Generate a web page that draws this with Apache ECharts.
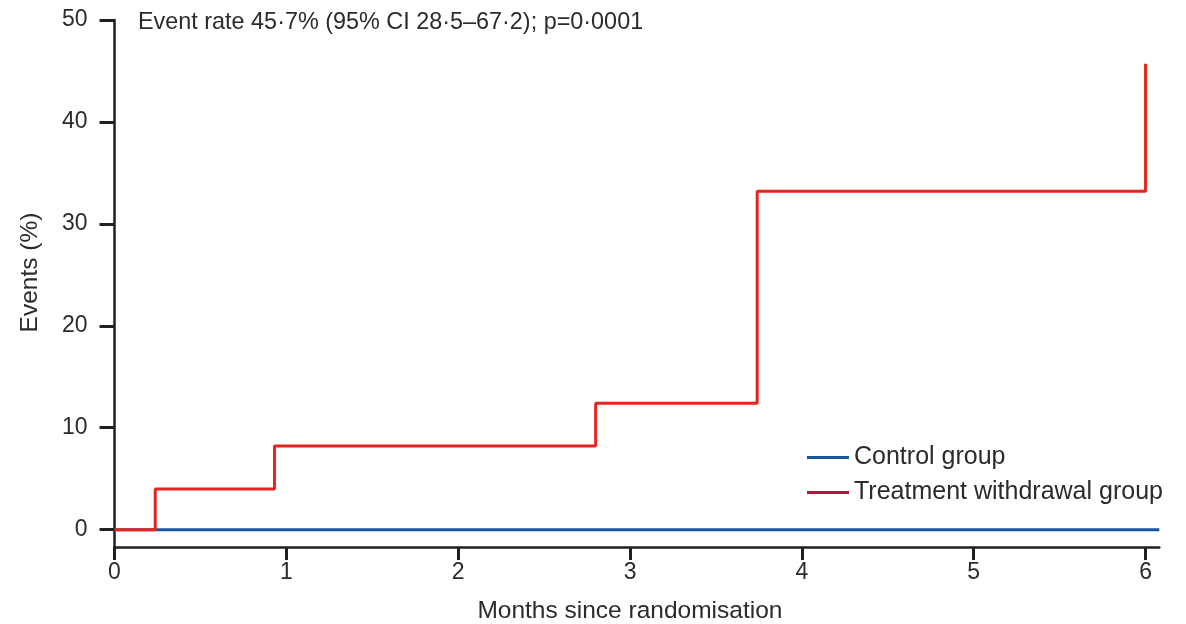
<!DOCTYPE html>
<html>
<head>
<meta charset="utf-8">
<title>Events after randomisation</title>
<script src="https://cdn.jsdelivr.net/npm/echarts@6/dist/echarts.min.js"></script>
<style>
  html, body { margin: 0; padding: 0; background: #fff; }
  #chart { width: 1186px; height: 624px; }
</style>
</head>
<body>
<div id="chart"></div>
<script>
// step points: [months, events %]
var controlPts = [[0, 0], [6.08, 0]]
var withdrawalPts = [[0, 0], [0.237, 4.0], [0.931, 8.2], [2.80, 12.4], [3.74, 33.2], [6.0, 45.7]]
var xTicks = [0, 1, 2, 3, 4, 5, 6]
var yTicks = [0, 10, 20, 30, 40, 50]
var seriesNames = ['Control group', 'Treatment withdrawal group']

var font = 'Liberation Sans'
var ink = '#231f20'
var txt = '#2b2b2b'

var chart = echarts.init(document.getElementById('chart'))

chart.setOption({
  animation: false,
  title: {
    text: 'Event rate 45·7% (95% CI 28·5–67·2); p=0·0001',
    left: 133,
    top: 6,
    textStyle: { fontFamily: font, fontSize: 23.4, fontWeight: 'normal', color: txt }
  },
  legend: {
    orient: 'vertical',
    left: 802,
    top: 440,
    icon: 'rect',
    itemWidth: 42,
    itemHeight: 3,
    itemGap: 10,
    textStyle: { fontFamily: font, fontSize: 25, color: txt, lineHeight: 20 },
    data: [
      { name: seriesNames[0], itemStyle: { color: '#1b55a0' } },
      { name: seriesNames[1], itemStyle: { color: '#b3153c' } }
    ]
  },
  grid: { left: 114.5, right: 26.7, top: 20, bottom: 77, outerBoundsMode: 'none' },
  xAxis: {
    type: 'value',
    min: 0,
    max: 6.08,
    name: 'Months since randomisation',
    nameLocation: 'middle',
    nameGap: 52,
    nameTextStyle: { fontFamily: font, fontSize: 24.5, color: txt, padding: [0, 14, 0, 0] },
    axisLine: { onZero: false, lineStyle: { color: ink, width: 2.5 } },
    axisTick: { customValues: xTicks, length: 13, lineStyle: { color: ink, width: 3 } },
    axisLabel: { customValues: xTicks, margin: 14, fontFamily: font, fontSize: 23, color: txt },
    splitLine: { show: false }
  },
  yAxis: {
    type: 'value',
    min: -1.7,
    max: 50,
    name: 'Events (%)',
    nameLocation: 'middle',
    nameGap: 72,
    nameTextStyle: { fontFamily: font, fontSize: 24.5, color: txt, padding: [0, 0, 0, 22] },
    axisLine: { lineStyle: { color: ink, width: 2.5 } },
    axisTick: { customValues: yTicks, length: 15, lineStyle: { color: ink, width: 3 } },
    axisLabel: { customValues: yTicks, margin: 27, fontFamily: font, fontSize: 23, color: txt },
    splitLine: { show: false }
  },
  series: [
    {
      name: seriesNames[0],
      type: 'line',
      symbol: 'none',
      lineStyle: { color: '#1b55a0', width: 3 },
      itemStyle: { color: '#1b55a0' },
      data: controlPts
    },
    {
      name: seriesNames[1],
      type: 'line',
      step: 'end',
      symbol: 'none',
      lineStyle: { color: '#e5251f', width: 3 },
      itemStyle: { color: '#e5251f' },
      data: withdrawalPts
    }
  ]
})
</script>
</body>
</html>
